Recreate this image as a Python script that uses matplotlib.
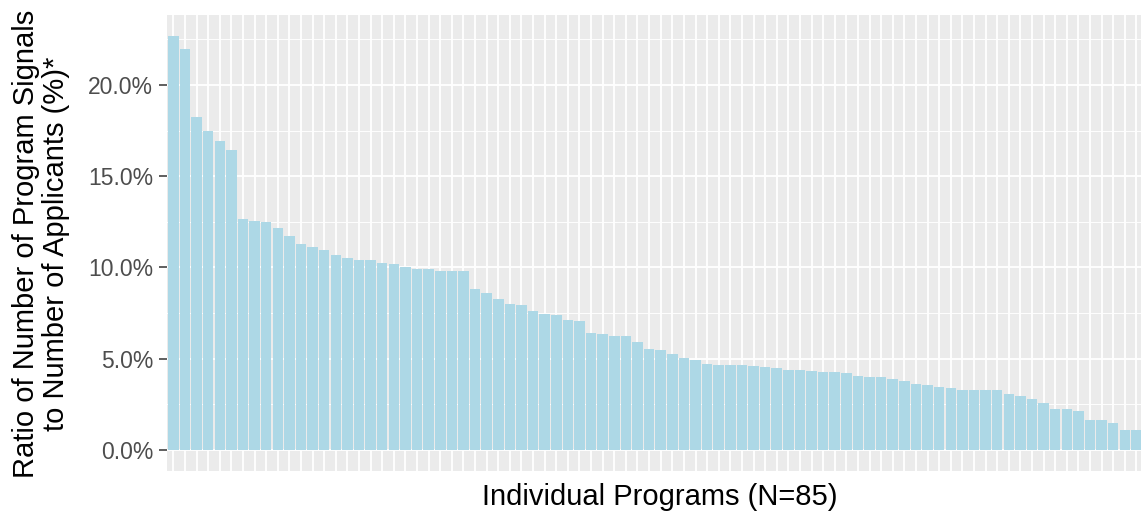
import matplotlib
matplotlib.use("Agg")
import matplotlib.pyplot as plt
import numpy as np

# Ratio of program signals to applicants (%), sorted descending, 85 programs
ratios = [
    22.70, 21.97, 18.26, 17.50, 16.91, 16.42, 12.64, 12.55, 12.48, 12.19,
    11.71, 11.28, 11.10, 10.97, 10.68, 10.50, 10.42, 10.42, 10.24, 10.17,
    10.00, 9.91, 9.91, 9.82, 9.82, 9.80, 8.82, 8.60, 8.28, 8.00,
    7.97, 7.62, 7.47, 7.40, 7.11, 7.08, 6.42, 6.33, 6.26, 6.26,
    5.91, 5.55, 5.46, 5.24, 5.06, 4.93, 4.73, 4.68, 4.68, 4.68,
    4.58, 4.53, 4.50, 4.38, 4.37, 4.35, 4.28, 4.28, 4.20, 4.08,
    3.98, 3.98, 3.91, 3.80, 3.64, 3.58, 3.44, 3.37, 3.31, 3.31,
    3.31, 3.26, 3.06, 2.98, 2.82, 2.55, 2.27, 2.27, 2.13, 1.67,
    1.64, 1.46, 1.09, 1.09, 1.00,
]
y_ticks = [0, 5, 10, 15, 20]
y_tick_labels = ["0.0%", "5.0%", "10.0%", "15.0%", "20.0%"]
x_title = "Individual Programs (N=85)"
y_title = "Ratio of Number of Program Signals\nto Number of Applicants (%)*"

plt.rcParams['font.family'] = ['Liberation Sans', 'DejaVu Sans']

W, H = 1141, 515
fig = plt.figure(figsize=(W / 100, H / 100), dpi=100)
fig.patch.set_facecolor("white")

left_px, right_px, top_px, bottom_px = 166.5, 1154.9, 15.0, 470.7
ax = fig.add_axes([left_px / W, 1 - bottom_px / H,
                   (right_px - left_px) / W, (bottom_px - top_px) / H])
ax.set_facecolor("#EBEBEB")

n = len(ratios)
x = np.arange(1, n + 1)
ymax = max(ratios)
ax.set_xlim(1 - 0.6, n + 0.6)
ax.set_ylim(-0.05 * ymax, 1.05 * ymax)

# grid
for v in np.arange(2.5, ymax * 1.05, 5):
    ax.axhline(v, color="white", lw=0.65, zorder=0.5)
for v in y_ticks:
    ax.axhline(v, color="white", lw=1.3, zorder=0.6)
for xi in x:
    ax.axvline(xi, color="white", lw=1.3, zorder=0.6)

ax.bar(x, ratios, width=0.9, color="#ADD8E6", edgecolor="none", zorder=2)

for s in ax.spines.values():
    s.set_visible(False)

ax.set_xticks([])
ax.set_yticks(y_ticks)
ax.set_yticklabels(y_tick_labels, fontsize=16.5, color="#4D4D4D")
ax.tick_params(axis="y", length=5.5, width=1.1, color="#333333", pad=4)

fig.text(660 / W, 1 - 496.7 / H, x_title, fontsize=21, color="black",
         ha="center", va="center")
fig.text(41 / W, 1 - 244 / H, y_title, fontsize=21, color="black",
         ha="center", va="center", rotation=90, multialignment="center",
         linespacing=1.05)

fig.savefig("out.png", dpi=100)
